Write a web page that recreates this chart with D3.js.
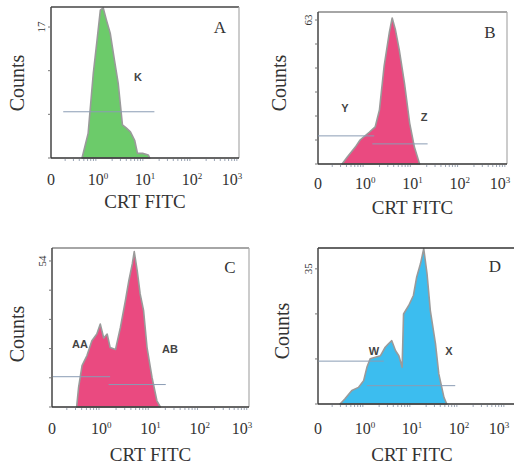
<!DOCTYPE html>
<html>
<head>
<meta charset="utf-8">
<script src="https://cdn.jsdelivr.net/npm/d3@7"></script>
<style>
  body { margin: 0; background: #fff; }
  svg { display: block; }
</style>
</head>
<body>
<div class="chart"></div>
<script>
// fluorescence (log10 of CRT FITC) and counts
var logFitcA = [-0.34, -0.21, -0.10, -0.02, 0.05, 0.11, 0.18, 0.26, 0.35, 0.43, 0.52, 0.60, 0.69, 0.78, 0.84, 0.95, 1.07, 1.10];
var countsA  = [0, 3.2, 11, 15.3, 19.2, 19.5, 17.9, 16.2, 12.7, 9.7, 4.3, 3.9, 3.4, 2.3, 0.6, 0.6, 0.4, 0];

var logFitcB = [-0.49, -0.38, -0.21, -0.11, 0.09, 0.21, 0.30, 0.40, 0.51, 0.57, 0.64, 0.72, 0.83, 0.94, 1.04, 1.15];
var countsB  = [0, 3.1, 7.4, 10.5, 14, 16.2, 23.6, 42.9, 57.6, 63.9, 58.6, 49.9, 35.4, 17.9, 7.4, 0];

var logFitcC = [-0.50, -0.46, -0.39, -0.29, -0.19, -0.09, -0.02, 0.05, 0.12, 0.18, 0.29, 0.39, 0.49, 0.56, 0.63, 0.67, 0.73, 0.79, 0.86, 0.93, 1.03, 1.13, 1.20];
var countsC  = [0, 7.3, 15.3, 19, 24.5, 27, 30.7, 25.5, 27, 22, 21.3, 29.5, 39.3, 46.7, 52.9, 57.5, 50.4, 41.8, 35.6, 22, 11, 2.3, 0];

var logFitcD = [-0.53, -0.43, -0.28, -0.14, -0.03, 0.04, 0.11, 0.22, 0.33, 0.43, 0.50, 0.57, 0.65, 0.72, 0.79, 0.82, 0.93, 1.03, 1.10, 1.18, 1.25, 1.32, 1.39, 1.50, 1.57, 1.68, 1.74];
var countsD  = [0, 1.3, 3.5, 4.3, 6, 9.5, 11.7, 12.1, 12.5, 14.7, 15.6, 16.4, 13.8, 12.5, 9.5, 23.3, 25.5, 28.1, 32.9, 36.3, 40.2, 33.7, 24.2, 15.6, 7.8, 1.7, 0];

// marker gates: [count level, from log, to log]
var gatesA = [[6, -0.74, 1.2]];
var gatesB = [[12.3, -1, 0.19], [8.8, 0.15, 1.32]];
var gatesC = [[11.2, -0.98, 0.18], [8.3, 0.15, 1.31]];
var gatesD = [[11.1, -0.99, 0.40], [4.75, 0.04, 1.92]];

var xTicks = [0.1, 1, 10, 100, 1000];
var xTickText = ["0", "10", "10", "10", "10"];
var xTickSup = ["", "0", "1", "2", "3"];

var topCounts = [17, 63, 54, 35];
var tickSteps = [3, 6, 5, 3];
var panelLetters = ["A", "B", "C", "D"];
var gateNames = [["K"], ["Y", "Z"], ["AA", "AB"], ["W", "X"]];

var w = 514, h = 468;

var panels = [
  {x0: 51, x1: 239, xr: 239, y0: 7, y1: 158, ymax: 19.6, log: logFitcA, cnt: countsA, gates: gatesA, fill: "#6ccb6a",
   tickY: 185, titleY: 208, countsX: 17, countsY: 83, frame: "#444",
   letter: [220, 33], names: [[138, 81]]},
  {x0: 318, x1: 507, xr: 507, y0: 12, y1: 164, ymax: 66.5, log: logFitcB, cnt: countsB, gates: gatesB, fill: "#ea4a80",
   tickY: 189, titleY: 214, countsX: 279, countsY: 83, frame: "#888",
   letter: [490, 38], names: [[345, 112], [424, 121]]},
  {x0: 52, x1: 249, xr: 249, y0: 248, y1: 407, ymax: 58.8, log: logFitcC, cnt: countsC, gates: gatesC, fill: "#ea4a80",
   tickY: 434, titleY: 461, countsX: 17, countsY: 334, frame: "#888",
   letter: [230, 273], names: [[80, 348], [170, 353]]},
  {x0: 318, x1: 506, xr: 520, y0: 248, y1: 404, ymax: 40.4, log: logFitcD, cnt: countsD, gates: gatesD, fill: "#3cbdef",
   tickY: 434, titleY: 461, countsX: 282, countsY: 331, frame: "#333",
   letter: [495, 272], names: [[374, 355], [449, 355]]}
];

var svg = d3.select(".chart").append("svg")
    .attr("width", w)
    .attr("height", h);

panels.forEach(function(p, k) {
  var x = d3.scaleLog().domain([0.1, 1000]).range([p.x0, p.x1]);
  var y = d3.scaleLinear().domain([0, p.ymax]).range([p.y1, p.y0]);
  var g = svg.append("g");

  // histogram
  var pts = p.log.map(function(d, i) { return [Math.pow(10, d), p.cnt[i]]; });
  var area = d3.area()
      .x(function(d) { return x(d[0]); })
      .y0(y(0))
      .y1(function(d) { return Math.max(y(d[1]), p.y0); });
  g.append("path")
      .datum(pts)
      .attr("d", area)
      .attr("fill", p.fill)
      .attr("stroke", "#9a9a9a")
      .attr("stroke-width", 1.6)
      .attr("stroke-linejoin", "round");

  // frame
  g.append("line").attr("x1", p.x0).attr("x2", p.xr).attr("y1", p.y0).attr("y2", p.y0)
      .attr("stroke", p.frame).attr("stroke-width", 1.5);
  g.append("line").attr("x1", p.xr).attr("x2", p.xr).attr("y1", p.y0).attr("y2", p.y1)
      .attr("stroke", "#aaa").attr("stroke-width", 1.2);
  g.append("line").attr("x1", p.x0).attr("x2", p.x0).attr("y1", p.y0).attr("y2", p.y1)
      .attr("stroke", "#444").attr("stroke-width", 1.5);
  g.append("line").attr("x1", p.x0).attr("x2", p.xr).attr("y1", p.y1).attr("y2", p.y1)
      .attr("stroke", "#333").attr("stroke-width", 1.5);

  // gates
  p.gates.forEach(function(gt) {
    g.append("line")
        .attr("x1", x(Math.pow(10, gt[1]))).attr("x2", x(Math.pow(10, gt[2])))
        .attr("y1", y(gt[0])).attr("y2", y(gt[0]))
        .attr("stroke", "#8a9cb4").attr("stroke-width", 1);
  });

  // x minor ticks
  var minor = [];
  for (var e = -1; e < 3; e++) {
    for (var m = 2; m < 10; m++) minor.push(m * Math.pow(10, e));
  }
  g.selectAll(".mt").data(minor).enter().append("line")
      .attr("x1", function(d) { return x(d); }).attr("x2", function(d) { return x(d); })
      .attr("y1", p.y1 + 1).attr("y2", p.y1 + 3)
      .attr("stroke", "#9aa4b4").attr("stroke-width", 1);

  // y ticks
  var step = topCounts[k] / tickSteps[k];
  var yt = d3.range(tickSteps[k] + 1).map(function(i) { return i * step; });
  g.selectAll(".yt").data(yt).enter().append("line")
      .attr("x1", p.x0 - 3).attr("x2", p.x0)
      .attr("y1", function(d) { return y(d); }).attr("y2", function(d) { return y(d); })
      .attr("stroke", "#777").attr("stroke-width", 1);

  g.append("text")
      .attr("transform", "translate(" + (p.x0 - 6) + "," + y(topCounts[k]) + ") rotate(-90)")
      .attr("text-anchor", "middle")
      .attr("font-family", "Liberation Serif, serif")
      .attr("font-size", "11px")
      .attr("fill", "#333")
      .text(topCounts[k]);

  // x tick labels (the last one sits a little inside the frame)
  var tl = g.selectAll(".xl").data(xTicks).enter().append("text")
      .attr("x", function(d, i) { return x(d) - (i === xTicks.length - 1 ? 7 : 0); })
      .attr("y", p.tickY)
      .attr("text-anchor", "middle")
      .attr("font-family", "Liberation Serif, serif")
      .attr("font-size", "16px")
      .attr("fill", "#333");
  tl.append("tspan").text(function(d, i) { return xTickText[i]; });
  tl.append("tspan")
      .attr("dy", -6)
      .attr("font-size", "9px")
      .text(function(d, i) { return xTickSup[i]; });

  g.append("text")
      .attr("x", x(10))
      .attr("y", p.titleY)
      .attr("text-anchor", "middle")
      .attr("font-family", "Liberation Serif, serif")
      .attr("font-size", "19px")
      .attr("fill", "#333")
      .text("CRT FITC");

  g.append("text")
      .attr("transform", "translate(" + (p.countsX + 7) + "," + p.countsY + ") rotate(-90)")
      .attr("text-anchor", "middle")
      .attr("font-family", "Liberation Serif, serif")
      .attr("font-size", "20px")
      .attr("fill", "#333")
      .text("Counts");

  g.append("text")
      .attr("x", p.letter[0]).attr("y", p.letter[1])
      .attr("text-anchor", "middle")
      .attr("font-family", "Liberation Serif, serif")
      .attr("font-size", "17px")
      .attr("fill", "#333")
      .text(panelLetters[k]);

  p.names.forEach(function(n, i) {
    g.append("text")
        .attr("x", n[0]).attr("y", n[1])
        .attr("text-anchor", "middle")
        .attr("font-family", "Liberation Sans, sans-serif")
        .attr("font-weight", "bold")
        .attr("font-size", "11px")
        .attr("fill", "#444")
        .text(gateNames[k][i]);
  });
});
</script>
</body>
</html>
